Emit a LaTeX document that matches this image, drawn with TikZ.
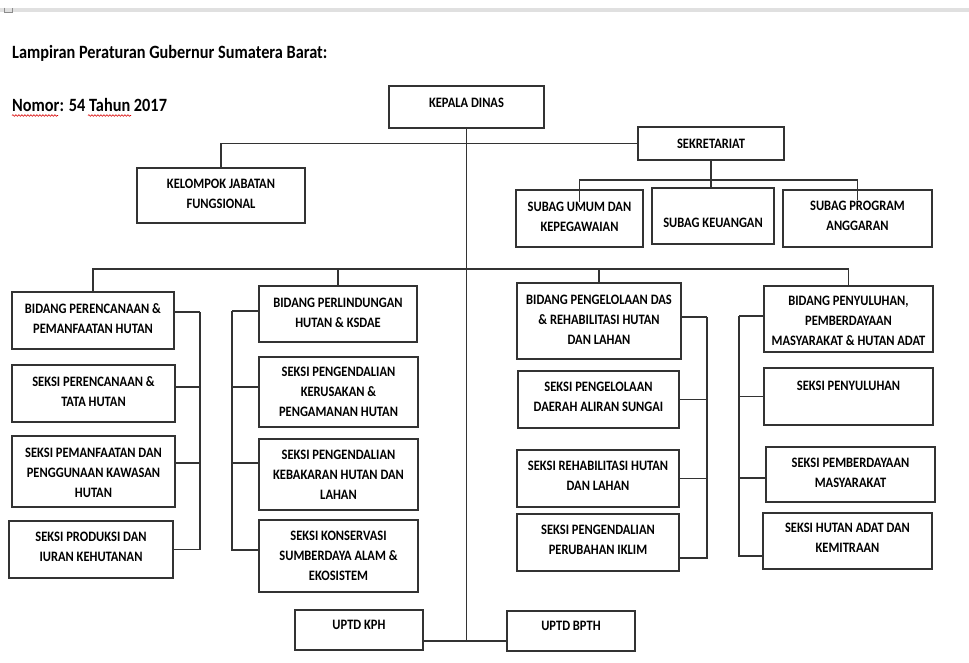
\documentclass[tikz,border=0pt]{standalone}
\usepackage{fontspec}
\setmainfont{Carlito}
\usetikzlibrary{decorations.pathmorphing}
\tikzset{
  boxst/.style={draw=black!80, line width=1.1pt, inner sep=0pt, outer sep=0pt},
  txt/.style={font=\fontsize{12.5}{17.4}\selectfont\bfseries, inner sep=0pt, text=black},
  conn/.style={draw=black!80, line width=1.1pt},
  titlest/.style={font=\fontsize{16.3}{18}\selectfont\bfseries, inner sep=0pt, anchor=base west},
  squig/.style={draw=red!85!black, line width=0.6pt, decorate, decoration={snake, amplitude=0.8pt, segment length=3pt}}
}
\newcommand{\tallbox}[1]{\scalebox{1}[1.15]{\begin{tabular}{@{}c@{}}#1\end{tabular}}}
\newcommand{\orgbox}[7]{%
  \pgfmathsetmacro{\obcx}{(#2+#4)/2}%
  \pgfmathsetmacro{\obcy}{(#3+#5)/2}%
  \pgfmathsetmacro{\obw}{#4-#2}%
  \pgfmathsetmacro{\obh}{#5-#3}%
  \node[boxst, minimum width=\obw pt, minimum height=\obh pt] (#1) at (\obcx,\obcy) {};
  \node[txt] (#1-t) at (\obcx,#6) {\tallbox{#7}};
}
\begin{document}
\begin{tikzpicture}[x=1pt,y=-1pt]
\useasboundingbox (0,0) rectangle (969,662);
\fill[white] (0,0) rectangle (969,662);
% top strip
\fill[black!12] (0,7.5) rectangle (969,11.5);
\draw[black!45, line width=0.6pt] (4,7.5) -- (4,12) -- (12,12) -- (12,7.5);
% titles
\node[titlest] (title1) at (12,58) {\scalebox{1}[1.15]{Lampiran Peraturan Gubernur Sumatera Barat:}};
\node[titlest] (title2) at (12,111) {\scalebox{1}[1.15]{Nomor: 54 Tahun 2017}};
\draw[squig] (12,115.5) -- (58,115.5);
\draw[squig] (88,115.5) -- (131,115.5);

% boxes
\orgbox{kepala}{389}{86}{544}{128}{103}{KEPALA DINAS}
\orgbox{sek}{638}{127}{784}{160}{144}{SEKRETARIAT}
\orgbox{kjf}{137}{168}{305}{223}{194.5}{KELOMPOK JABATAN\\FUNGSIONAL}
\orgbox{umum}{516}{190}{643}{247}{217}{SUBAG UMUM DAN\\KEPEGAWAIAN}
\orgbox{keu}{652}{188}{774}{244}{223}{SUBAG KEUANGAN}
\orgbox{prog}{783}{190}{932}{247}{216.5}{SUBAG PROGRAM\\ANGGARAN}

\orgbox{bp}{12}{292}{174}{349}{319}{BIDANG PERENCANAAN \&\\PEMANFAATAN HUTAN}
\orgbox{spa}{12}{365}{175}{422}{392}{SEKSI PERENCANAAN \&\\TATA HUTAN}
\orgbox{spb}{12}{436}{175}{507}{473}{SEKSI PEMANFAATAN DAN\\PENGGUNAAN KAWASAN\\HUTAN}
\orgbox{spc}{9}{521}{173}{578}{547}{SEKSI PRODUKSI DAN\\IURAN KEHUTANAN}

\orgbox{bl}{259}{286}{417}{342}{313}{BIDANG PERLINDUNGAN\\HUTAN \& KSDAE}
\orgbox{sla}{259}{357}{418}{427}{392}{SEKSI PENGENDALIAN\\KERUSAKAN \&\\PENGAMANAN HUTAN}
\orgbox{slb}{259}{439}{418}{510}{475}{SEKSI PENGENDALIAN\\KEBAKARAN HUTAN DAN\\LAHAN}
\orgbox{slc}{259}{520}{418}{592}{556}{SEKSI KONSERVASI\\SUMBERDAYA ALAM \&\\EKOSISTEM}
\orgbox{kph}{295}{610}{423}{650}{625}{UPTD KPH}

\orgbox{bd}{517}{283}{681}{359}{320.5}{BIDANG PENGELOLAAN DAS\\\& REHABILITASI HUTAN\\DAN LAHAN}
\orgbox{sda}{518}{371}{679}{428}{397}{SEKSI PENGELOLAAN\\DAERAH ALIRAN SUNGAI}
\orgbox{sdb}{517}{450}{679}{507}{476}{SEKSI REHABILITASI HUTAN\\DAN LAHAN}
\orgbox{sdc}{517}{514}{679}{571}{540}{SEKSI PENGENDALIAN\\PERUBAHAN IKLIM}
\orgbox{bpth}{507}{611}{635}{651}{626}{UPTD BPTH}

\orgbox{bpy}{764}{286}{933}{352}{321.5}{BIDANG PENYULUHAN,\\PEMBERDAYAAN\\MASYARAKAT \& HUTAN ADAT}
\orgbox{sya}{764}{368}{933}{425}{386}{SEKSI PENYULUHAN}
\orgbox{syb}{766}{447}{935}{502}{473}{SEKSI PEMBERDAYAAN\\MASYARAKAT}
\orgbox{syc}{763}{513}{932}{569}{538}{SEKSI HUTAN ADAT DAN\\KEMITRAAN}

% helper coordinates
\coordinate (bar) at (0,269);
\coordinate (sbar) at (0,180);
\coordinate (jb) at (467,641);
\coordinate (bra) at (200,312);
\coordinate (brb) at (232,311);
\coordinate (brc) at (707,317);
\coordinate (brd) at (739,316);

% connectors
\draw[conn] (kepala.south) -- (kepala.south |- jb);
\draw[conn] (kph.east |- jb) -- (bpth.west |- jb);
\draw[conn] (kjf.north) -- (kjf.north |- sek.west) -- (sek.west);
\draw[conn] (sek.south) -- (sek.south |- keu.north);
\draw[conn] ([yshift=-12pt]umum.north) -- (umum.north |- sbar) -- (prog.north |- sbar) -- ([yshift=-10pt]prog.north);
\draw[conn] (bp.north) -- (bp.north |- bar) -- (bpy.north |- bar) -- (bpy.north);
\draw[conn] (bl.north) -- (bl.north |- bar);
\draw[conn] (bd.north) -- (bd.north |- bar);

\draw[conn] ([yshift=8.5pt]bp.east) -| (bra);
\draw[conn] ([yshift=6.5pt]spa.east) -| (bra);
\draw[conn] ([yshift=8.5pt]spb.east) -| (bra);
\draw[conn] (spc.east) -| (bra);

\draw[conn] ([yshift=3pt]bl.west) -| (brb);
\draw[conn] ([yshift=5pt]sla.west) -| (brb);
\draw[conn] ([yshift=11.5pt]slb.west) -| (brb);
\draw[conn] ([yshift=6pt]slc.west) -| (brb);

\draw[conn] ([yshift=4pt]bd.east) -| (brc);
\draw[conn] (sda.east) -| (brc);
\draw[conn] (sdb.east) -| (brc);
\draw[conn] ([yshift=-15.5pt]sdc.east) -| (brc);

\draw[conn] ([yshift=3pt]bpy.west) -| (brd);
\draw[conn] (sya.west) -| (brd);
\draw[conn] ([yshift=-3.5pt]syb.west) -| (brd);
\draw[conn] ([yshift=-15pt]syc.west) -| (brd);
\end{tikzpicture}
\end{document}
